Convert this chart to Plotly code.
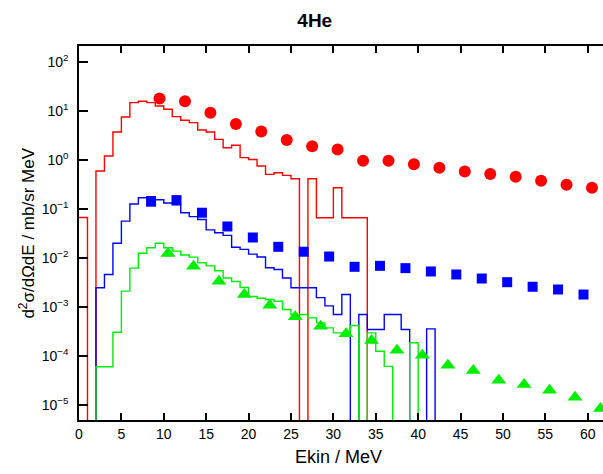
import plotly.graph_objects as go

# 1 MeV histogram bins starting at 0 MeV (value per bin; 0 = empty bin)
red_hist = [0.067, 0, 0.596, 1.21, 3.74, 7.57, 14.9, 15.9, 14.9, 12.7,
            10.9, 7.71, 6.49, 5.82, 4.10, 3.74, 2.65, 1.79, 2.0, 1.12,
            1.03, 0.754, 0.51, 0.55, 0.487, 0.416, 0, 0.416, 0.0664, 0.0664,
            0.272, 0.0664, 0.0664, 0.0664, 0]
blue_hist = [0, 0, 0.00246, 0.0046, 0.0200, 0.0566, 0.127, 0.170, 0.178, 0.155,
             0.133, 0.122, 0.084, 0.070, 0.0612, 0.0375, 0.0327, 0.029, 0.0165, 0.0150,
             0.0120, 0.0105, 0.0063, 0.0058, 0.0039, 0.00246, 0.00246, 0.00246, 0.00155, 0.00105,
             0.0007, 0.00179, 0, 0.0007, 0.000345, 0.000345, 0.0007, 0.0007, 0.000345, 0,
             0, 0.000356, 0]
green_hist = [0, 0, 6.0e-5, 6.0e-5, 3.04e-4, 0.0021, 0.0062, 0.0125, 0.0162, 0.0200,
              0.0162, 0.0138, 0.0115, 0.0104, 0.0080, 0.0069, 0.0055, 0.0039, 0.0033, 0.0025,
              0.00163, 0.0015, 0.00142, 0.00131, 8.85e-4, 7.0e-4, 7.0e-4, 5.98e-4, 4.73e-4, 3.74e-4,
              2.95e-4, 2.51e-4, 4.17e-4, 0, 2.95e-4, 1.24e-4, 6.1e-5, 0, 0, 1.85e-4, 0]

# Measured points
red_x = [9.5, 12.5, 15.5, 18.5, 21.5, 24.5, 27.5, 30.5, 33.5, 36.5,
         39.5, 42.5, 45.5, 48.5, 51.5, 54.5, 57.5, 60.5]
red_y = [18.0, 15.9, 9.3, 5.45, 3.83, 2.56, 1.91, 1.65, 0.97, 0.97,
         0.817, 0.70, 0.587, 0.518, 0.458, 0.379, 0.314, 0.273]
blue_x = [8.5, 11.5, 14.5, 17.5, 20.5, 23.5, 26.5, 29.5, 32.5, 35.5,
          38.5, 41.5, 44.5, 47.5, 50.5, 53.5, 56.5, 59.5]
blue_y = [0.141, 0.152, 0.084, 0.044, 0.0262, 0.0169, 0.0134, 0.0107, 0.0066, 0.0069,
          0.0062, 0.0053, 0.0046, 0.0038, 0.0032, 0.00258, 0.00227, 0.00179]
green_x = [10.5, 13.5, 16.5, 19.5, 22.5, 25.5, 28.5, 31.5, 34.5, 37.5,
           40.5, 43.5, 46.5, 49.5, 52.5, 55.5, 58.5, 61.5]
green_y = [0.0124, 0.0068, 0.00336, 0.00179, 0.00108, 6.3e-4, 4.03e-4, 2.82e-4, 2.06e-4, 1.30e-4,
           1.03e-4, 6.4e-5, 5.0e-5, 3.17e-5, 2.59e-5, 1.98e-5, 1.42e-5, 8.4e-6]

x_ticks = [0, 5, 10, 15, 20, 25, 30, 35, 40, 45, 50, 55, 60]
y_tickvals = [1e-5, 1e-4, 1e-3, 1e-2, 1e-1, 1e0, 1e1, 1e2]
y_ticktext = ["10<sup>−5</sup>", "10<sup>−4</sup>", "10<sup>−3</sup>", "10<sup>−2</sup>",
              "10<sup>−1</sup>", "10<sup>0</sup>", "10<sup>1</sup>", "10<sup>2</sup>"]

FLOOR = 1e-12  # empty bins drawn below the axis


def steps(vals):
    xs = list(range(len(vals)))
    ys = [v if v > 0 else FLOOR for v in vals]
    return xs, ys


fig = go.Figure()
for vals, col in [(red_hist, "#ff0000"), (blue_hist, "#0000ff"), (green_hist, "#00ee00")]:
    xs, ys = steps(vals)
    fig.add_trace(go.Scatter(x=xs, y=ys, mode="lines", line=dict(color=col, width=1.4, shape="hv"),
                             showlegend=False, hoverinfo="skip"))

fig.add_trace(go.Scatter(x=red_x, y=red_y, mode="markers",
                         marker=dict(symbol="circle", size=12, color="#ff0000"), showlegend=False))
fig.add_trace(go.Scatter(x=blue_x, y=blue_y, mode="markers",
                         marker=dict(symbol="square", size=10, color="#0000ff"), showlegend=False))
fig.add_trace(go.Scatter(x=green_x, y=green_y, mode="markers",
                         marker=dict(symbol="triangle-up", size=13, color="#00ee00"), showlegend=False))

font_fam = "Liberation Sans, Arial, sans-serif"
fig.update_layout(
    width=603, height=474,
    margin=dict(l=79, r=0, t=46, b=54),
    paper_bgcolor="white", plot_bgcolor="white",
    font=dict(family=font_fam, color="black", size=14),
    title=dict(text="<b>4He</b>", x=0.522, xanchor="center", y=0.958, yanchor="middle",
               font=dict(size=19, family=font_fam)),
    xaxis=dict(range=[0, 61.8], tickvals=x_ticks, ticks="inside", ticklen=7, tickwidth=1.5,
               tickcolor="black", showline=True, linecolor="black", linewidth=1.5,
               mirror="ticks", showgrid=False, zeroline=False,
               tickfont=dict(size=14, family=font_fam)),
    yaxis=dict(type="log", range=[-5.31, 2.33], tickvals=y_tickvals, ticktext=y_ticktext,
               ticks="inside", ticklen=9, tickwidth=1.5, tickcolor="black",
               showline=True, linecolor="black", linewidth=1.5, mirror=False,
               showgrid=False, zeroline=False, ticklabelstandoff=6,
               tickfont=dict(size=14, family=font_fam)),
    annotations=[
        dict(text="Ekin / MeV", xref="paper", yref="paper", x=0.495, y=-0.098,
             xanchor="center", yanchor="middle", showarrow=False,
             font=dict(size=18, family=font_fam)),
        dict(text="d<sup>2</sup>σ/dΩdE / mb/sr MeV", xref="paper", yref="paper",
             x=-0.1, y=0.5, xanchor="center", yanchor="middle", textangle=-90,
             showarrow=False, font=dict(size=17, family=font_fam)),
    ],
)

fig.write_html("out.html")
